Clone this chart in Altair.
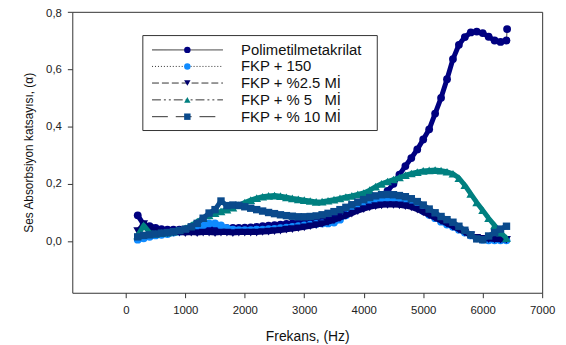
import altair as alt
import pandas as pd

# ---------------- data ----------------
FREQ = list(range(200, 6500, 100))  # Hz

PMMA_F = FREQ + [6410]
PMMA = [0.090, 0.058, 0.052, 0.046, 0.042, 0.040, 0.040, 0.040, 0.041, 0.042,
        0.043, 0.043, 0.044, 0.045, 0.045, 0.045, 0.046, 0.046, 0.047, 0.048,
        0.050, 0.052, 0.054, 0.056, 0.058, 0.060, 0.062, 0.064, 0.067, 0.070,
        0.073, 0.077, 0.082, 0.088, 0.095, 0.103, 0.111, 0.118, 0.125, 0.132,
        0.140, 0.152, 0.175, 0.200, 0.232, 0.262, 0.290, 0.320, 0.355, 0.390,
        0.445, 0.500, 0.565, 0.635, 0.685, 0.712, 0.728, 0.731, 0.726, 0.713,
        0.700, 0.695, 0.700, 0.740]

FKP150 = [0.005, 0.010, 0.015, 0.020, 0.022, 0.025, 0.030, 0.033, 0.036, 0.040,
          0.045, 0.055, 0.062, 0.062, 0.055, 0.045, 0.040, 0.038, 0.038, 0.038,
          0.040, 0.040, 0.042, 0.043, 0.045, 0.047, 0.050, 0.052, 0.055, 0.058,
          0.060, 0.062, 0.062, 0.065, 0.075, 0.090, 0.105, 0.118, 0.130, 0.138,
          0.143, 0.145, 0.145, 0.143, 0.140, 0.135, 0.128, 0.118, 0.105, 0.092,
          0.080, 0.068, 0.058, 0.050, 0.040, 0.030, 0.020, 0.010, 0.005, 0.003,
          0.003, 0.003, 0.003]

FKP25 = [0.035, 0.060, 0.045, 0.035, 0.030, 0.028, 0.030, 0.030, 0.028, 0.030,
         0.028, 0.030, 0.030, 0.028, 0.030, 0.030, 0.028, 0.030, 0.030, 0.030,
         0.030, 0.032, 0.033, 0.035, 0.037, 0.040, 0.042, 0.045, 0.048, 0.052,
         0.056, 0.060, 0.066, 0.072, 0.080, 0.088, 0.096, 0.105, 0.112, 0.118,
         0.122, 0.125, 0.126, 0.126, 0.125, 0.122, 0.118, 0.110, 0.100, 0.090,
         0.080, 0.070, 0.060, 0.050, 0.040, 0.030, 0.020, 0.012, 0.008, 0.007,
         0.006, 0.005, 0.005]

FKP5 = [0.020, 0.055, 0.030, 0.025, 0.028, 0.030, 0.033, 0.038, 0.045, 0.055,
        0.068, 0.080, 0.090, 0.098, 0.104, 0.110, 0.117, 0.125, 0.135, 0.143,
        0.150, 0.155, 0.158, 0.159, 0.157, 0.153, 0.149, 0.146, 0.143, 0.140,
        0.137, 0.138, 0.141, 0.145, 0.149, 0.154, 0.158, 0.163, 0.168, 0.178,
        0.190, 0.200, 0.208, 0.215, 0.222, 0.230, 0.236, 0.241, 0.245, 0.247,
        0.248, 0.246, 0.242, 0.235, 0.220, 0.195, 0.165, 0.135, 0.108, 0.080,
        0.055, 0.030, 0.010]

FKP10 = [0.015, 0.020, 0.022, 0.025, 0.028, 0.030, 0.033, 0.037, 0.042, 0.050,
         0.062, 0.080, 0.098, 0.110, 0.140, 0.124, 0.126, 0.125, 0.120, 0.115,
         0.110, 0.105, 0.100, 0.096, 0.092, 0.089, 0.087, 0.085, 0.085, 0.086,
         0.088, 0.092, 0.097, 0.103, 0.110, 0.118, 0.127, 0.136, 0.145, 0.152,
         0.158, 0.162, 0.163, 0.162, 0.159, 0.155, 0.148, 0.138, 0.126, 0.112,
         0.099, 0.086, 0.075, 0.066, 0.052, 0.038, 0.022, 0.008, 0.005, 0.018,
         0.030, 0.042, 0.052]

NAMES = ["Polimetilmetakrilat", "FKP + 150", "FKP + %2.5 Mİ",
         "FKP + % 5\u00a0\u00a0\u00a0Mİ", "FKP + % 10 Mİ"]
X_TICKS = [0, 1000, 2000, 3000, 4000, 5000, 6000, 7000]
Y_TICKS = [0.0, 0.2, 0.4, 0.6, 0.8]

# ---------------- styles ----------------
STYLE = [
    dict(f=PMMA_F, v=PMMA, color="#000080", shape="circle", dash=[1, 0], size=62),
    dict(f=FREQ, v=FKP150, color="#0f8bff", shape="circle", dash=[1, 2], size=62),
    dict(f=FREQ, v=FKP25, color="#00006e", shape="triangle-down", dash=[7, 3], size=80),
    dict(f=FREQ, v=FKP5, color="#008080", shape="triangle-up", dash=[9, 3, 2, 3, 2, 3], size=80),
    dict(f=FREQ, v=FKP10, color="#0a4a8c", shape="square", dash=[16, 8], size=56),
]

FONT = "Liberation Sans"

xscale = alt.Scale(domain=[-900, 7000], nice=False, zero=False)
yscale = alt.Scale(domain=[-0.18, 0.8], nice=False, zero=False)

xaxis = alt.Axis(values=X_TICKS, format="d", title="Frekans, (Hz)", grid=False,
                 domain=False, tickSize=5, tickColor="#333", labelPadding=7,
                 labelFont=FONT, labelFontSize=11.5, labelColor="#222",
                 titleFont=FONT, titleFontSize=14, titleFontWeight="normal",
                 titleColor="#111", titlePadding=14, labelFlush=False)
yaxis = alt.Axis(values=Y_TICKS, title="Ses Absorbsiyon katsayısı, (α)", grid=False,
                 domain=False, tickSize=5, tickColor="#333", labelPadding=6,
                 labelExpr="replace(format(datum.value, '.1f'), '.', ',')",
                 labelFont=FONT, labelFontSize=11.5, labelColor="#222",
                 labelFlush=True, labelFlushOffset=4,
                 titleFont=FONT, titleFontSize=12, titleFontWeight="normal",
                 titleColor="#111", titlePadding=10)

xenc = alt.X("f:Q", scale=xscale, axis=xaxis)
yenc = alt.Y("v:Q", scale=yscale, axis=yaxis)

layers = []
for name, st in zip(NAMES, STYLE):
    df = pd.DataFrame({"f": st["f"], "v": st["v"], "s": name})
    base = alt.Chart(df)
    band = alt.Chart(df[df["f"] <= 6400]).mark_line(
        color=st["color"], strokeWidth=5, strokeJoin="round").encode(
        x=xenc, y=yenc, order="f:Q")
    line = base.mark_line(color="#222", strokeWidth=1, strokeDash=st["dash"]).encode(
        x=xenc, y=yenc, order="f:Q")
    pts = base.mark_point(shape=st["shape"], filled=True, color=st["color"],
                          size=st["size"], opacity=1).encode(x=xenc, y=yenc)
    layers += [line, band, pts]

# ---------------- manual legend ----------------
one = pd.DataFrame({"k": [0]})
LEG_Y = [38.5, 55.2, 72.0, 89.0, 106.0]
legend = [alt.Chart(one).mark_rect(fill="white", stroke="#333", strokeWidth=1).encode(
    x=alt.value(71.3), x2=alt.value(308.3), y=alt.value(24), y2=alt.value(120))]
for name, st, yy in zip(NAMES, STYLE, LEG_Y):
    legend.append(alt.Chart(one).mark_rule(color="#333", strokeWidth=1,
                                            strokeDash=st["dash"]).encode(
        x=alt.value(80.6), x2=alt.value(152.3), y=alt.value(yy)))
    legend.append(alt.Chart(one).mark_point(shape=st["shape"], filled=True,
                                             color=st["color"], size=42, opacity=1).encode(
        x=alt.value(116.3), y=alt.value(yy)))
    legend.append(alt.Chart(one).mark_text(align="left", baseline="middle", font=FONT,
                                            fontSize=15, color="#111").encode(
        x=alt.value(170.6), y=alt.value(yy), text=alt.value(name)))

chart = alt.layer(*layers, *legend).properties(
    width=475, height=284,
    padding={"left": 65, "top": 2, "right": 16, "bottom": 56},
    autosize=alt.AutoSizeParams(type="none"),
).configure(background="white").configure_view(stroke="#333", strokeWidth=1)

chart.save("out.html", embed_options={"renderer": "svg", "actions": False})
